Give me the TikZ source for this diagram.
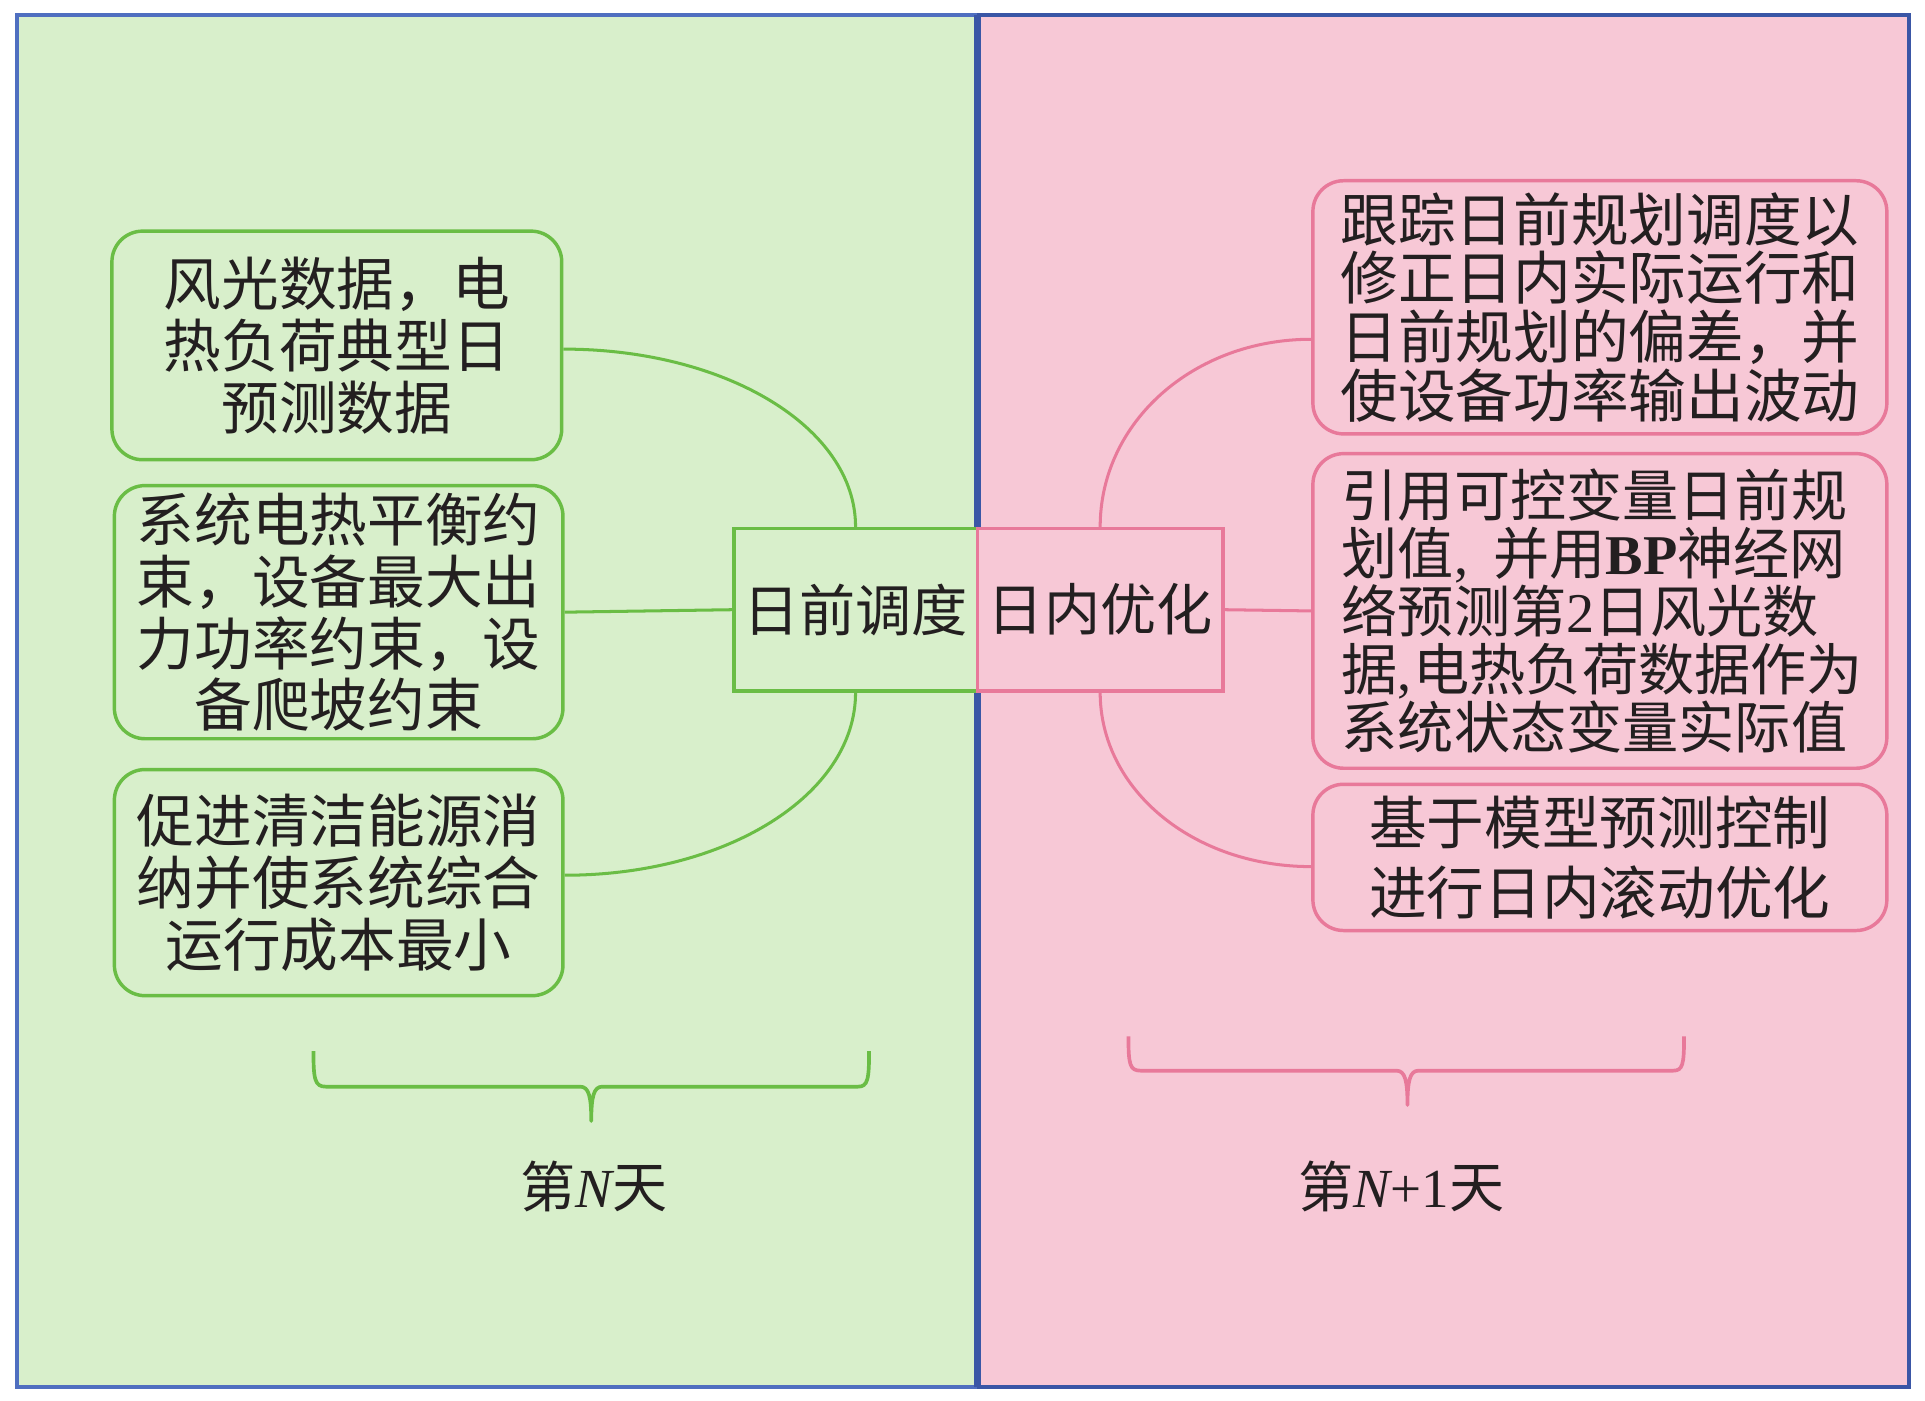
\documentclass[tikz,border=0pt]{standalone}
\usepackage{fontspec}
\setmainfont{Liberation Serif}
\newfontfamily\cjk{Noto Sans CJK SC}
\definecolor{gfill}{HTML}{D8EFCB}
\definecolor{pfill}{HTML}{F7C8D6}
\definecolor{gline}{HTML}{6ABD45}
\definecolor{pline}{HTML}{E8799A}
\definecolor{blueA}{HTML}{4F6FC0}
\definecolor{blueB}{HTML}{3A56A6}
\definecolor{txt}{HTML}{231F20}
\tikzset{
  gbox/.style={draw=gline, line width=1.6pt, rounded corners=0.5cm, align=center, inner sep=0pt, text=txt,
    font={\cjk\fontsize{26.7pt}{28.6pt}\selectfont}},
  pbox/.style={draw=pline, line width=1.6pt, rounded corners=0.5cm, align=left, inner sep=0pt, text=txt,
    font={\cjk\fontsize{26.7pt}{27.2pt}\selectfont}},
  gcore/.style={draw=gline, line width=1.6pt, inner sep=0pt, text=txt, font={\cjk\fontsize{26pt}{28pt}\selectfont}},
  pcore/.style={draw=pline, line width=1.6pt, inner sep=0pt, text=txt, font={\cjk\fontsize{26pt}{28pt}\selectfont}},
  gcon/.style={draw=gline, line width=1.4pt},
  pcon/.style={draw=pline, line width=1.4pt},
  dayfont/.style={text=txt, font={\cjk\fontsize{25.5pt}{27pt}\selectfont}},
}
\begin{document}
\begin{tikzpicture}[x=0.02cm, y=-0.02cm]
\useasboundingbox (0,0) rectangle (1566,1139);
% panels
\path[fill=gfill] (14,12) rectangle (795,1128);
\path[fill=pfill] (795,12) rectangle (1553,1128);
\draw[blueA, line width=1.9pt] (795,12) -- (14,12) -- (14,1128) -- (795,1128);
\draw[blueB, line width=1.9pt] (795,12) -- (1553,12) -- (1553,1128) -- (795,1128);
\draw[blueB, line width=3.2pt] (795,12) -- (795,1128);

% left boxes
\node[gbox, minimum width=7.32cm, minimum height=3.72cm] (b1) at (274,281) {风光数据，电\\热负荷典型日\\预测数据};
\node[gbox, minimum width=7.30cm, minimum height=4.12cm] (b2) at (275.5,498) {系统电热平衡约\\束，设备最大出\\力功率约束，设\\备爬坡约束};
\node[gbox, minimum width=7.30cm, minimum height=3.68cm] (b3) at (275.5,718) {促进清洁能源消\\纳并使系统综合\\运行成本最小};

% right boxes
\node[pbox, minimum width=9.34cm, minimum height=4.12cm] (b4) at (1301.5,250) {跟踪日前规划调度以\\修正日内实际运行和\\日前规划的偏差，并\\使设备功率输出波动};
\node[pbox, minimum width=9.34cm, minimum height=5.12cm, text width=8.4cm,
  font={\cjk\fontsize{26pt}{26.8pt}\selectfont}] (b5) at (1301.5,497) {\mbox{引用可控变量日前规}\\\mbox{划值{\rmfamily,}\hspace{0.45em}并用{\rmfamily\bfseries BP}神经网}\\\mbox{络预测第{\rmfamily 2}日风光数}\\\mbox{据{\rmfamily,}\hspace{0.03em}电热负荷数据作为}\\\mbox{系统状态变量实际值}};
\node[pbox, align=center, minimum width=9.34cm, minimum height=2.38cm,
  font={\cjk\fontsize{26.7pt}{32.4pt}\selectfont}] (b6) at (1301.5,697.5) {基于模型预测控制\\进行日内滚动优化};

% core boxes
\node[gcore, fill=gfill, minimum width=3.96cm, minimum height=2.64cm] (c1) at (696,496) {日前调度};
\node[pcore, fill=pfill, minimum width=4.00cm, minimum height=2.64cm] (c2) at (895,496) {日内优化};

% connectors
\draw[gcon] (c1.north) .. controls +(0,-81) and +(132,0) .. ([yshift=-0.06cm]b1.east);
\draw[gcon] (b2.east) -- (c1.west);
\draw[gcon] (c1.south) .. controls +(0,83) and +(132,0) .. ([yshift=0.12cm]b3.east);
\draw[pcon] (c2.north) .. controls +(0,-85) and +(-96,0) .. ([yshift=-0.52cm]b4.west);
\draw[pcon] (c2.east) -- (b5.west);
\draw[pcon] (c2.south) .. controls +(0,79) and +(-96,0) .. ([yshift=-0.15cm]b6.west);

% braces
\coordinate (lbA) at (255,855);
\coordinate (lbT) at (481,912);
\coordinate (lbB) at (707,855);
\draw[gline, line width=1.7pt, line join=round]
  (lbA) .. controls (255,878) and (256,884) .. (265,884) -- (472,884)
  .. controls (479,884) and (481,892) .. (lbT)
  .. controls (481,892) and (483,884) .. (490,884) -- (698,884)
  .. controls (706,884) and (707,878) .. (lbB);
\coordinate (rbA) at (918,843);
\coordinate (rbT) at (1145,899);
\coordinate (rbB) at (1370,843);
\draw[pline, line width=1.7pt, line join=round]
  (rbA) .. controls (918,866) and (919,871) .. (928,871) -- (1136,871)
  .. controls (1143,871) and (1145,879) .. (rbT)
  .. controls (1145,879) and (1147,871) .. (1154,871) -- (1361,871)
  .. controls (1369,871) and (1370,866) .. (rbB);

% day labels
\node[dayfont] (d1) at (483,965) {第{\rmfamily\itshape N}天};
\node[dayfont] (d2) at (1140,965) {第{\rmfamily\itshape N}{\rmfamily +1}天};
\end{tikzpicture}
\end{document}
